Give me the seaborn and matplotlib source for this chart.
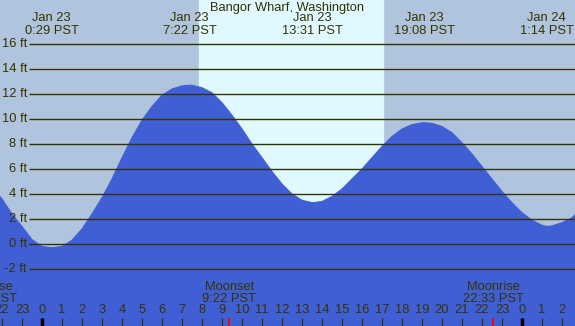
import matplotlib
matplotlib.use('Agg')
import matplotlib.pyplot as plt
import matplotlib.transforms as mtransforms
import numpy as np
import pandas as pd
import seaborn as sns

# Datos (horas desde Jan 23 00:00 PST)
tide_hours = [-2.1, -2, -1.5, -1, -0.5, 0, 0.48, 1, 1.5, 2, 2.5, 3, 3.5, 4, 4.5,
              5, 5.5, 6, 6.5, 7, 7.37, 7.5, 8, 8.5, 9, 9.5, 10, 10.5, 11, 11.5,
              12, 12.5, 13, 13.52, 14, 14.5, 15, 15.5, 16, 16.5, 17, 17.5, 18,
              18.5, 19, 19.13, 19.5, 20, 20.5, 21, 21.5, 22, 22.5, 23, 23.5, 24,
              24.5, 25, 25.23, 25.5, 26, 26.5, 26.7]
tide_feet = [3.8, 3.6, 2.4, 1.4, 0.35, -0.2, -0.3, -0.2, 0.3, 1.2, 2.4, 3.7, 5.2,
             6.9, 8.5, 9.9, 11.0, 11.9, 12.4, 12.65, 12.7, 12.7, 12.5, 12.1, 11.3,
             10.3, 9.2, 8.0, 6.9, 5.8, 4.8, 4.0, 3.5, 3.3, 3.4, 3.8, 4.4, 5.2,
             6.0, 6.9, 7.8, 8.6, 9.2, 9.55, 9.7, 9.7, 9.65, 9.4, 8.9, 8.1, 7.2,
             6.2, 5.2, 4.2, 3.3, 2.5, 1.9, 1.5, 1.4, 1.45, 1.7, 2.1, 2.4]

extreme_hours = [0.48, 7.37, 13.52, 19.13, 25.23]
extreme_dates = ['Jan 23', 'Jan 23', 'Jan 23', 'Jan 23', 'Jan 24']
extreme_times = ['0:29 PST', '7:22 PST', '13:31 PST', '19:08 PST', '1:14 PST']

moon_hours = [-2.78, 9.37, 22.55]
moon_names = ['Moonrise', 'Moonset', 'Moonrise']
moon_times = ['21:13 PST', '9:22 PST', '22:33 PST']

sunrise = 7.85
sunset = 17.05

ft_levels = [-2, 0, 2, 4, 6, 8, 10, 12, 14, 16]
hour_ticks = list(range(-2, 27))

title = 'Bangor Wharf, Washington'

# Colores
night = '#b0c4de'
day = '#e0f8ff'
water = '#415fd5'
ink = '#333300'

sns.set_style('white')
plt.rcParams['font.family'] = ['Liberation Sans', 'DejaVu Sans']
fs = 9.3

W, H = 575, 326
fig = plt.figure(figsize=(W / 100, H / 100), dpi=100)
ax = fig.add_axes([0, 0, 1, 1])
ax.set_facecolor(night)

# escala: hora 0 en x=42px, 20 px por hora; 0 ft en y=244px, 12.5 px por pie
x0 = -42 / 20
x1 = x0 + W / 20
y1 = 244 / 12.5
y0 = y1 - H / 12.5
ax.set_xlim(x0, x1)
ax.set_ylim(y0, y1)

ax.axvspan(sunrise, sunset, color=day, zorder=0)

df = pd.DataFrame({'hour': tide_hours, 'feet': tide_feet})
ax.fill_between(df.hour, df.feet, y0, color=water, lw=0, zorder=1)
sns.lineplot(data=df, x='hour', y='feet', ax=ax, color=water, lw=0.8, zorder=1)

# lineas horizontales y etiquetas
for lv in ft_levels:
    ax.hlines(lv, (29 - 42) / 20, x1, color=ink, lw=1.0, zorder=2)
    ax.text((27 - 42) / 20, lv, f'{lv} ft', ha='right', va='center',
            fontsize=fs, color=ink, zorder=3)

def px_y(py):
    return 1 - py / H

trans = mtransforms.blended_transform_factory(ax.transData, ax.transAxes)

ax.text(0.5, px_y(8), title, transform=ax.transAxes, ha='center', va='center',
        fontsize=fs, color=ink)
for h, d, t in zip(extreme_hours, extreme_dates, extreme_times):
    ax.text(h, px_y(18), d, transform=trans, ha='center', va='center',
            fontsize=fs, color=ink)
    ax.text(h, px_y(31), t, transform=trans, ha='center', va='center',
            fontsize=fs, color=ink)

for h in hour_ticks:
    ax.text(h, px_y(310), str(h % 24), transform=trans, ha='center',
            va='center', fontsize=fs, color=ink)
    thick = 2.5 if h % 24 == 0 else 0.9
    col = 'black' if h % 24 == 0 else ink
    ax.vlines(h, px_y(326), px_y(318), transform=trans, color=col, lw=thick,
              zorder=3)

for h, n, t in zip(moon_hours, moon_names, moon_times):
    ax.text(h, px_y(287), n, transform=trans, ha='center', va='center',
            fontsize=fs, color=ink)
    ax.text(h, px_y(299), t, transform=trans, ha='center', va='center',
            fontsize=fs, color=ink)
    ax.vlines(h, px_y(326), px_y(318), transform=trans, color='red', lw=1.3,
              zorder=4)

ax.set_xlabel('')
ax.set_ylabel('')
ax.set_xticks([])
ax.set_yticks([])
for s in ax.spines.values():
    s.set_visible(False)

fig.savefig('out.png', dpi=100)
